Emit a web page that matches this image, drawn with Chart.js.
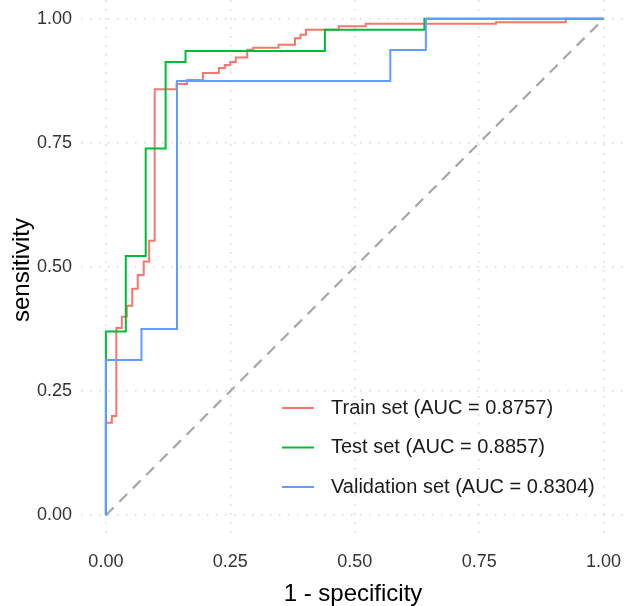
<!DOCTYPE html>
<html>
<head>
<meta charset="utf-8">
<script src="https://cdn.jsdelivr.net/npm/chart.js@4"></script>
<style>
  html, body { margin: 0; padding: 0; background: #fff; }
  #wrap { width: 625px; height: 606px; }
</style>
</head>
<body>
<div id="wrap"><canvas id="rocChart"></canvas></div>
<script>
// ROC curves: 1 - specificity (x) vs sensitivity (y), one point per step corner
const trainFpr = [0, 0, 0.012, 0.021, 0.032, 0.042, 0.053, 0.064, 0.076, 0.087, 0.098, 0.142, 0.163, 0.195, 0.227, 0.239, 0.250, 0.261, 0.284, 0.296, 0.347, 0.380, 0.391, 0.402, 0.468, 0.522, 0.784, 0.924, 1];
const trainTpr = [0, 0.186, 0.200, 0.377, 0.400, 0.422, 0.456, 0.484, 0.511, 0.553, 0.858, 0.869, 0.877, 0.891, 0.901, 0.907, 0.913, 0.922, 0.938, 0.942, 0.948, 0.961, 0.968, 0.978, 0.985, 0.990, 0.993, 1, 1];

const testFpr = [0, 0, 0.04, 0.08, 0.12, 0.16, 0.44, 0.64, 1];
const testTpr = [0, 0.370, 0.522, 0.739, 0.913, 0.935, 0.978, 1, 1];

const validFpr = [0, 0, 0.0714, 0.1429, 0.5714, 0.6429, 1];
const validTpr = [0, 0.3125, 0.375, 0.875, 0.9375, 1, 1];

const refFpr = [0, 1];
const refTpr = [0, 1];

const seriesLabels = ['Train set (AUC = 0.8757)', 'Test set (AUC = 0.8857)', 'Validation set (AUC = 0.8304)'];
const seriesColors = ['#F8766D', '#00BA38', '#619CFF'];
const axisTicks = [0, 0.25, 0.5, 0.75, 1];

const toPoints = (xs, ys) => xs.map((x, i) => ({ x: x, y: ys[i] }));

const FONT = "'Liberation Sans', Arial, sans-serif";

// legend drawn inside the panel, bottom right
const insideLegend = {
    id: 'insideLegend',
    afterDraw(chart) {
        const ctx = chart.ctx;
        const x0 = 282, y0 = 408, gap = 39.5;
        ctx.save();
        ctx.font = '20px ' + FONT;
        ctx.textBaseline = 'middle';
        ctx.textAlign = 'left';
        seriesLabels.forEach((label, i) => {
            const y = y0 + i * gap;
            ctx.strokeStyle = seriesColors[i];
            ctx.lineWidth = 2;
            ctx.beginPath();
            ctx.moveTo(x0, y);
            ctx.lineTo(x0 + 32, y);
            ctx.stroke();
            ctx.fillStyle = '#1a1a1a';
            ctx.fillText(label, x0 + 49, y);
        });
        ctx.restore();
    }
};

// no extra room for overflowing tick labels: the panel runs to the canvas edges
const noPadding = (scale) => {
    scale.paddingTop = 0;
    scale.paddingBottom = 0;
    scale.paddingLeft = 0;
    scale.paddingRight = 0;
};

const ctx = document.getElementById('rocChart').getContext('2d');

new Chart(ctx, {
    type: 'line',
    data: {
        datasets: [
            {
                label: seriesLabels[0],
                data: toPoints(trainFpr, trainTpr),
                borderColor: seriesColors[0],
                borderWidth: 2,
                stepped: 'before',
                order: 3
            },
            {
                label: seriesLabels[1],
                data: toPoints(testFpr, testTpr),
                borderColor: seriesColors[1],
                borderWidth: 2,
                stepped: 'before',
                order: 2
            },
            {
                label: seriesLabels[2],
                data: toPoints(validFpr, validTpr),
                borderColor: seriesColors[2],
                borderWidth: 2,
                stepped: 'before',
                order: 1
            },
            {
                label: 'reference',
                data: toPoints(refFpr, refTpr),
                borderColor: '#A6A6A6',
                borderWidth: 2.2,
                borderDash: [11, 8],
                order: 4
            }
        ]
    },
    options: {
        responsive: true,
        maintainAspectRatio: false,
        animation: false,
        layout: { padding: 0 },
        elements: {
            point: { radius: 0 },
            line: { fill: false, tension: 0 }
        },
        plugins: {
            legend: { display: false },
            tooltip: { enabled: false }
        },
        scales: {
            x: {
                type: 'linear',
                min: -0.05,
                max: 1.043,
                afterBuildTicks: (scale) => { scale.ticks = axisTicks.map(v => ({ value: v })); },
                afterFit: (scale) => { scale.height = 66; noPadding(scale); },
                grid: { color: '#d6d6d6', lineWidth: 1.5, drawTicks: false },
                border: { display: false, dash: [1.5, 7.5] },
                ticks: {
                    padding: 11,
                    color: '#333',
                    font: { family: FONT, size: 18 },
                    maxRotation: 0,
                    callback: (v) => Number(v).toFixed(2)
                },
                title: {
                    display: true,
                    text: '1 - specificity',
                    color: '#000',
                    font: { family: FONT, size: 24 },
                    padding: { top: 0, bottom: -3 }
                }
            },
            y: {
                type: 'linear',
                min: -0.05,
                max: 1.038,
                afterBuildTicks: (scale) => { scale.ticks = axisTicks.map(v => ({ value: v })); },
                afterFit: (scale) => { scale.width = 81; noPadding(scale); },
                grid: { color: '#d6d6d6', lineWidth: 1.5, drawTicks: false },
                border: { display: false, dash: [1.5, 7.5] },
                ticks: {
                    padding: 9,
                    color: '#333',
                    font: { family: FONT, size: 18 },
                    callback: (v) => Number(v).toFixed(2)
                },
                title: {
                    display: true,
                    text: 'sensitivity',
                    color: '#000',
                    font: { family: FONT, size: 24 },
                    padding: { top: 8, bottom: 0 }
                }
            }
        }
    },
    plugins: [insideLegend]
});
</script>
</body>
</html>
